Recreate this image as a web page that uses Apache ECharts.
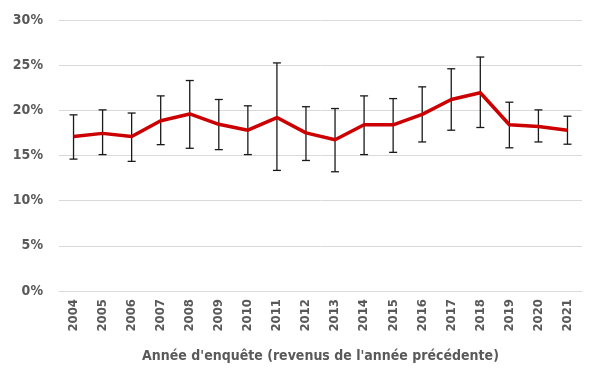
<!DOCTYPE html>
<html><head><meta charset="utf-8">
<script src="https://cdn.jsdelivr.net/npm/echarts@6/dist/echarts.min.js"></script>
<style>html,body{margin:0;padding:0;background:#fff}#c{width:600px;height:386px}</style>
</head><body><div id="c"></div>
<script>
const years = ['2004','2005','2006','2007','2008','2009','2010','2011','2012','2013','2014','2015','2016','2017','2018','2019','2020','2021'];
const values = [17.1,17.45,17.1,18.85,19.6,18.45,17.8,19.2,17.5,16.75,18.4,18.4,19.55,21.2,21.95,18.4,18.2,17.8];
const upper = [19.5,20.05,19.7,21.6,23.3,21.2,20.5,25.25,20.4,20.2,21.6,21.3,22.6,24.6,25.9,20.9,20.05,19.35];
const lower = [14.6,15.1,14.35,16.2,15.8,15.65,15.1,13.35,14.45,13.2,15.1,15.35,16.5,17.8,18.1,15.85,16.5,16.25];
const yTicks = [0,5,10,15,20,25,30];

const font = '"DejaVu Sans Condensed", sans-serif';
const chart = echarts.init(document.getElementById('c'));
const errData = years.map((y,i)=>[i, lower[i], upper[i]]);
chart.setOption({
  animation:false,
  grid:{left:59,right:18,top:20,bottom:95},
  xAxis:{type:'category',data:years,boundaryGap:true,
    axisLine:{show:true,lineStyle:{color:'#d9d9d9',width:1}},axisTick:{show:false},
    axisLabel:{rotate:90,color:'#595959',fontFamily:font,fontWeight:'bold',fontSize:13,margin:8},
    name:"Année d'enquête (revenus de l'année précédente)",nameLocation:'middle',nameGap:58,
    nameTextStyle:{color:'#595959',fontFamily:font,fontWeight:'bold',fontSize:14}},
  yAxis:{type:'value',min:yTicks[0],max:yTicks[yTicks.length-1],interval:5,
    axisLine:{show:false},axisTick:{show:false},
    splitLine:{lineStyle:{color:'#d9d9d9',width:1}},
    axisLabel:{formatter:v=>v+'%',color:'#595959',fontFamily:font,fontWeight:'bold',fontSize:14,margin:16}},
  series:[
    {type:'custom',data:errData,z:2,
     renderItem:(params,api)=>{
       const x=api.value(0);
       const lo=api.coord([x,api.value(1)]);
       const hi=api.coord([x,api.value(2)]);
       const w=4;
       const st={stroke:'#1a1a1a',lineWidth:1.3};
       return {type:'group',children:[
         {type:'line',shape:{x1:lo[0],y1:lo[1],x2:hi[0],y2:hi[1]},style:st},
         {type:'line',shape:{x1:lo[0]-w,y1:lo[1],x2:lo[0]+w,y2:lo[1]},style:st},
         {type:'line',shape:{x1:hi[0]-w,y1:hi[1],x2:hi[0]+w,y2:hi[1]},style:st}
       ]};
     }},
    {type:'line',data:values,z:3,symbol:'none',lineStyle:{color:'#cc0000',width:3.5}}
  ]
});
</script></body></html>
